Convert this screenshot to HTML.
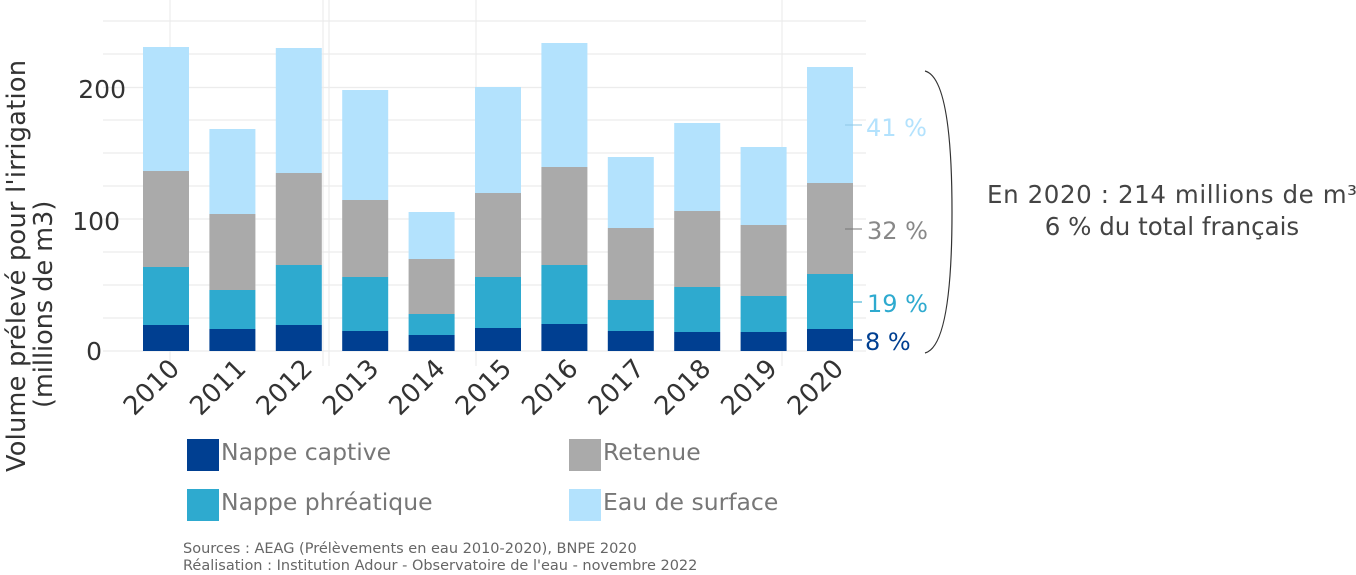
<!DOCTYPE html>
<html><head><meta charset="utf-8"><style>
body{margin:0;background:#fff;width:1356px;height:571px;overflow:hidden;font-family:"DejaVu Sans","Liberation Sans",sans-serif}
</style></head><body>
<svg width="1356" height="571" xmlns="http://www.w3.org/2000/svg" font-family="DejaVu Sans, Liberation Sans, sans-serif">
<g stroke="#ececec" stroke-width="1.2">
<line x1="103" x2="866" y1="21" y2="21"/><line x1="103" x2="866" y1="54" y2="54"/>
<line x1="103" x2="866" y1="87.5" y2="87.5"/><line x1="103" x2="866" y1="120" y2="120"/>
<line x1="103" x2="866" y1="153" y2="153"/><line x1="103" x2="866" y1="186" y2="186"/>
<line x1="103" x2="866" y1="219" y2="219"/><line x1="103" x2="866" y1="252" y2="252"/>
<line x1="103" x2="866" y1="285" y2="285"/><line x1="103" x2="866" y1="318" y2="318"/>
<line x1="103" x2="866" y1="351" y2="351"/>
<line x1="170" x2="170" y1="0" y2="366"/><line x1="323" x2="323" y1="0" y2="366"/>
<line x1="329" x2="329" y1="0" y2="366"/><line x1="476" x2="476" y1="0" y2="366"/>
<line x1="782" x2="782" y1="0" y2="366"/>
</g>
<g id="bars"></g>
<g fill="#333" font-size="25" text-anchor="end">
<text x="126" y="98">200</text><text x="120" y="230">100</text><text x="102" y="360">0</text>
</g>
<g fill="#333" font-size="26" id="xl"></g>
<text transform="translate(25,472) rotate(-90)" font-size="25.5" textLength="412" fill="#333">Volume prélevé pour l'irrigation</text>
<text transform="translate(52,408) rotate(-90)" font-size="25.5" fill="#333">(millions de m3)</text>
<g font-size="24">
<text x="866" y="136" fill="#b3e2fd">41 %</text>
<text x="867" y="239" fill="#888">32 %</text>
<text x="867" y="312" fill="#2eaacf">19 %</text>
<text x="865" y="350" fill="#003f91">8 %</text>
</g>
<g stroke-width="1">
<line x1="845" x2="862" y1="125" y2="125" stroke="#8fc8e6"/>
<line x1="845" x2="862" y1="229" y2="229" stroke="#777"/>
<line x1="845" x2="862" y1="302" y2="302" stroke="#2eaacf"/>
<line x1="845" x2="862" y1="340" y2="340" stroke="#003f91"/>
</g>
<path d="M925,71 Q952,78 952,212 Q952,346 925,353" fill="none" stroke="#333" stroke-width="1.2"/>
<g font-size="24.5" fill="#444" text-anchor="middle">
<text x="1172" y="203" textLength="370">En 2020 : 214 millions de m³</text>
<text x="1172" y="235">6 % du total français</text>
</g>
<g font-size="23.5" fill="#777">
<rect x="187" y="439" width="32" height="32" fill="#003f91"/><text x="221" y="460">Nappe captive</text>
<rect x="569" y="439" width="32" height="32" fill="#aaa"/><text x="603" y="460">Retenue</text>
<rect x="187" y="489" width="32" height="32" fill="#2eaacf"/><text x="221" y="510">Nappe phréatique</text>
<rect x="569" y="489" width="32" height="32" fill="#b3e2fd"/><text x="603" y="510">Eau de surface</text>
</g>
<g font-size="14.5" fill="#666">
<text x="183" y="553">Sources : AEAG (Prélèvements en eau 2010-2020), BNPE 2020</text>
<text x="183" y="570">Réalisation : Institution Adour - Observatoire de l'eau - novembre 2022</text>
</g>
</svg>
<script>
const d=[[47,171,267,325],[129,214,290,329],[48,173,265,325],[90,200,277,331],[212,259,314,335],[87,193,277,328],[43,167,265,324],[157,228,300,331],[123,211,287,332],[147,225,296,332],[67,183,274,329]];
const c=["#b3e2fd","#aaa","#2eaacf","#003f91"];
let s="",t="";
d.forEach((b,i)=>{const x=143+i*66.4;
for(let k=0;k<4;k++){const y0=b[k],y1=k<3?b[k+1]:351;s+=`<rect x="${x}" y="${y0}" width="46" height="${y1-y0}" fill="${c[k]}"/>`;}
const cx=x+23;t+=`<text transform="translate(${cx+15},370) rotate(-45)" text-anchor="end">${2010+i}</text>`;});
document.getElementById("bars").innerHTML=s;document.getElementById("xl").innerHTML=t;
</script>
</body></html>
